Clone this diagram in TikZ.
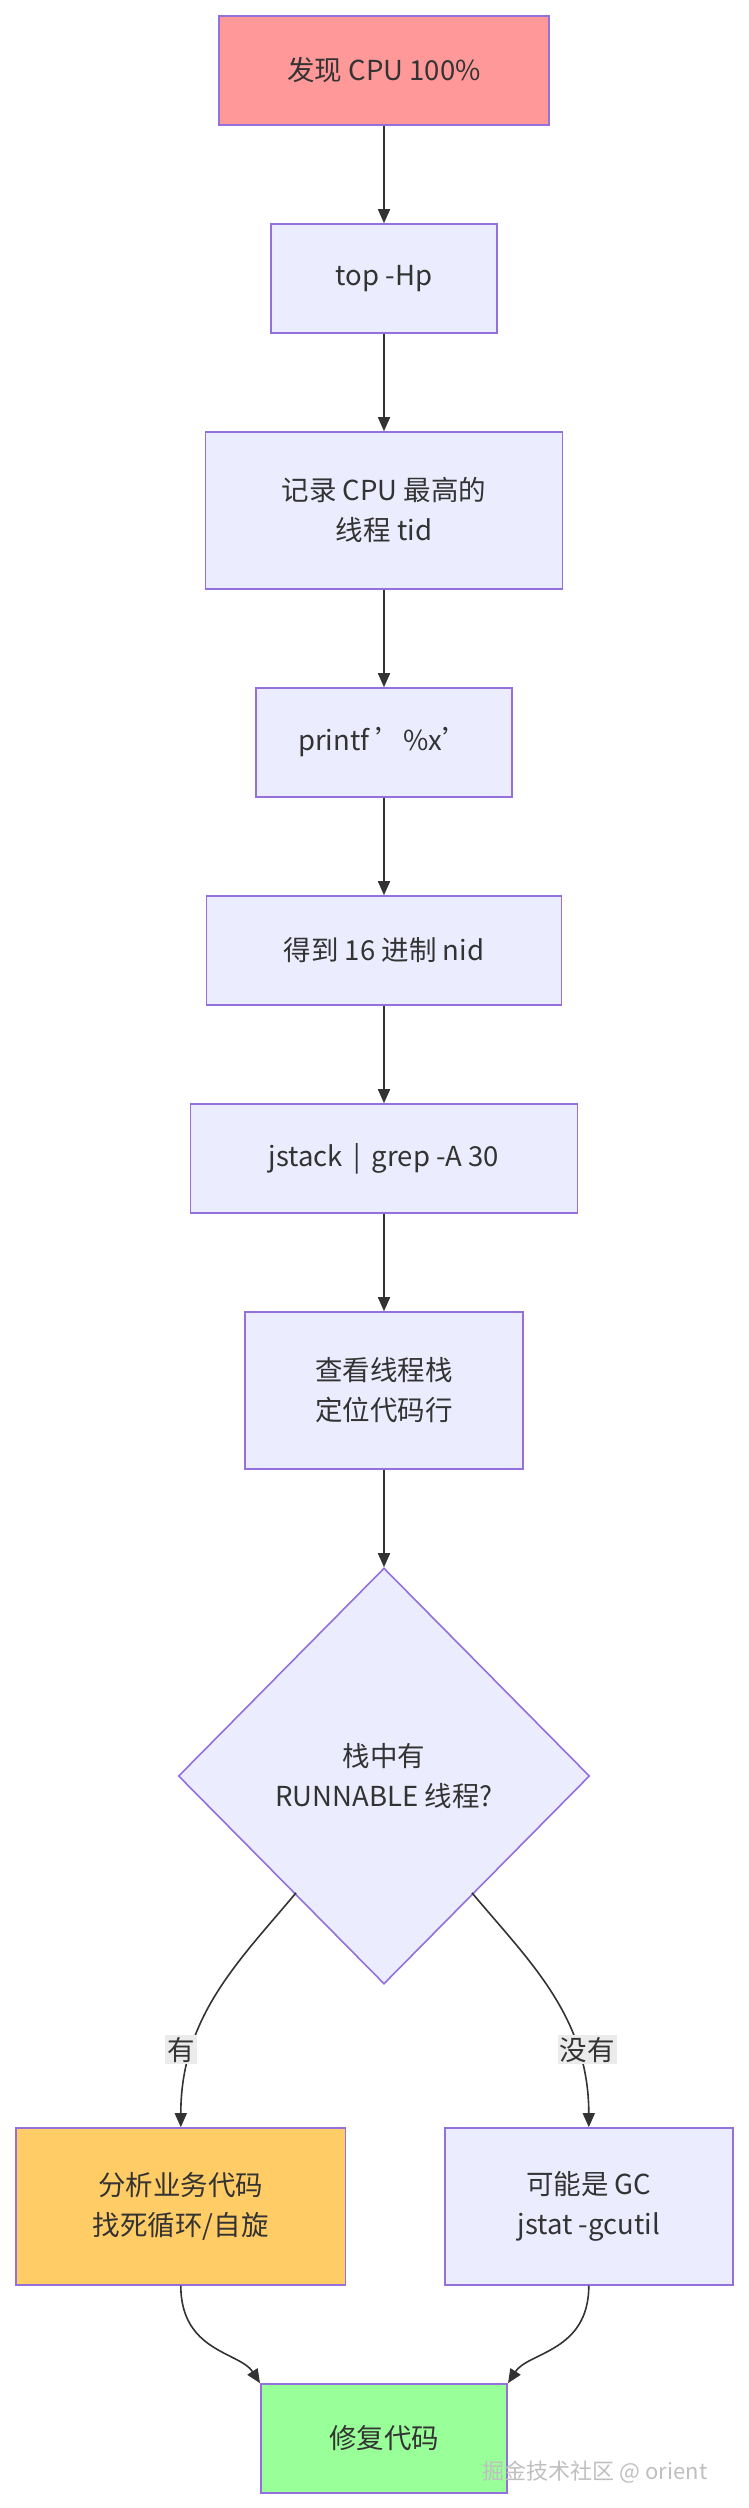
\documentclass[tikz,border=0pt]{standalone}
\usepackage{fontspec}
\setmainfont{Noto Sans CJK SC}
\usetikzlibrary{shapes.geometric,arrows.meta}
\definecolor{bx}{HTML}{ECECFF}
\definecolor{bd}{HTML}{9370DB}
\definecolor{tx}{HTML}{333333}
\definecolor{rd}{HTML}{FF9999}
\definecolor{og}{HTML}{FFCC66}
\definecolor{gn}{HTML}{99FF99}
\begin{document}
\begin{tikzpicture}[x=1.6pt,y=-1.6pt,
 box/.style={draw=bd,fill=bx,line width=1.6pt,text=tx,font=\fontsize{27.5}{40}\selectfont,align=center,inner sep=0pt},
 arr/.style={draw=tx,line width=1.6pt,-{Triangle[length=14pt,width=12pt]}},
 lab/.style={fill=black!8,text=tx,font=\fontsize{27.5}{32}\selectfont,inner sep=2pt}]
\useasboundingbox (0,0) rectangle (468.1,1567.5);
\node[box,fill=rd,minimum width=206*1.6pt,minimum height=68*1.6pt] (a) at (240,44) {发现 CPU 100\%};
\node[box,minimum width=141*1.6pt,minimum height=68*1.6pt] (b) at (240,174) {top -Hp};
\node[box,minimum width=223*1.6pt,minimum height=98*1.6pt] (c) at (240,319) {记录 CPU 最高的\\线程 tid};
\node[box,minimum width=160*1.6pt,minimum height=68*1.6pt] (d) at (240,464) {printf \char"27\%x\char"27};
\node[box,minimum width=222*1.6pt,minimum height=68*1.6pt] (e) at (240,594) {得到 16 进制 nid};
\node[box,minimum width=242*1.6pt,minimum height=68*1.6pt] (f) at (240,724) {jstack \,|\, grep -A 30};
\node[box,minimum width=174*1.6pt,minimum height=98*1.6pt] (g) at (240,869) {查看线程栈\\定位代码行};
\node[box,diamond,minimum width=257*1.6pt,minimum height=260*1.6pt] (h) at (240,1110) {栈中有\\RUNNABLE 线程?};
\node[box,fill=og,minimum width=206*1.6pt,minimum height=98*1.6pt] (i) at (113,1379) {分析业务代码\\找死循环/自旋};
\node[box,minimum width=180*1.6pt,minimum height=98*1.6pt] (j) at (368,1379) {可能是 GC\\jstat -gcutil};
\node[box,fill=gn,minimum width=154*1.6pt,minimum height=68*1.6pt] (k) at (240,1524) {修复代码};
\draw[arr] (a) -- (b); \draw[arr] (b) -- (c); \draw[arr] (c) -- (d);
\draw[arr] (d) -- (e); \draw[arr] (e) -- (f); \draw[arr] (f) -- (g); \draw[arr] (g) -- (h);
\coordinate (hl) at (185,1183); \coordinate (hr) at (295,1183);
\draw[arr] (hl) .. controls (150,1225) and (113,1260) .. (i.north);
\draw[arr] (hr) .. controls (330,1225) and (368,1260) .. (j.north);
\node[lab] (l1) at (113,1281) {有};
\node[lab] (l2) at (367,1281) {没有};
\draw[arr] (i.south) .. controls (113,1470) and (150,1470) .. (k.north west);
\draw[arr] (j.south) .. controls (368,1470) and (330,1470) .. (k.north east);
\node[text=black!25,font=\fontsize{22}{26}\selectfont] (w) at (372,1545) {掘金技术社区 @ orient};
\end{tikzpicture}
\end{document}
